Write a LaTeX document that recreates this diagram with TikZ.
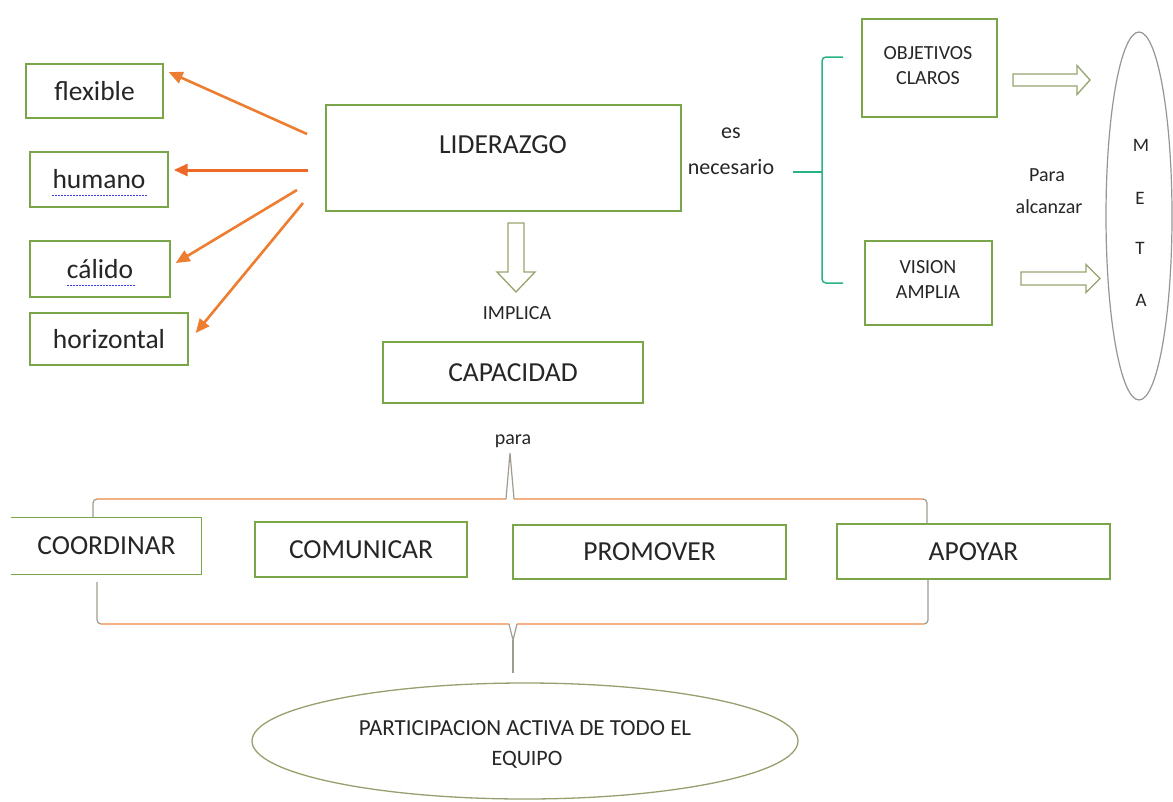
\documentclass[tikz,border=0pt]{standalone}
\usepackage{fontspec}
\setmainfont{Carlito}
\usetikzlibrary{arrows.meta,shapes.geometric,calc}
\definecolor{boxgreen}{RGB}{122,165,72}
\definecolor{arrorange}{RGB}{237,125,49}
\definecolor{arrred}{RGB}{238,105,40}
\definecolor{lightorange}{RGB}{244,177,131}
\definecolor{bracegreen}{RGB}{40,180,130}
\definecolor{txt}{RGB}{38,38,38}
\definecolor{metagray}{RGB}{150,150,150}
\definecolor{ellcol}{RGB}{150,160,110}
\definecolor{tipgray}{RGB}{160,155,145}
\definecolor{hollow}{RGB}{150,165,110}
\definecolor{spell}{RGB}{60,60,230}
\newcommand{\fbig}{\fontsize{27.5}{33}\selectfont}
\newcommand{\fmid}{\fontsize{22}{26}\selectfont}
\newcommand{\fsmall}{\fontsize{20}{24}\selectfont}
\newcommand{\fmeta}{\fontsize{19}{23}\selectfont}
\tikzset{
  gbox/.style={draw=boxgreen, line width=1.4pt, fill=white, inner sep=0pt, text=txt, font=\fbig},
  lbl/.style={inner sep=0pt, text=txt},
  oarrow/.style={draw=arrorange, line width=2.6pt, -{Triangle[length=14pt,width=12pt]}},
  hollowarrow/.style={draw=hollow, line width=1.3pt, fill=white, line join=miter},
  brk/.style={draw=lightorange, line width=2.6pt},
  brkv/.style={draw=tipgray, line width=1.2pt},
  spellline/.style={draw=spell, line width=1pt, dash pattern=on 1.5pt off 1.5pt}
}
\begin{document}
\begin{tikzpicture}[x=1pt,y=-1pt]
\useasboundingbox[fill=white] (0,0) rectangle (1173,801);

% left adjective boxes
\node[gbox, minimum width=137pt, minimum height=54pt] (flex) at (94.5,91) {flexible};
\node[gbox, minimum width=138pt, minimum height=55pt] (hum) at (99,179.5) {humano};
\node[gbox, minimum width=140pt, minimum height=56pt] (cal) at (100,269) {cálido};
\node[gbox, minimum width=158pt, minimum height=52pt] (hor) at (109,339) {horizontal};
\draw[spellline] (52,195) -- (147,195);
\draw[spellline] (67,285) -- (136,285);

% LIDERAZGO
\node[gbox, minimum width=355pt, minimum height=106pt] (lid) at (503.5,158) {};
\node[lbl, font=\fbig] (lidt) at (503,145) {LIDERAZGO};

% orange arrows
\coordinate (s1) at (307,134);
\coordinate (s2) at (308,170);
\coordinate (s3) at (297,190);
\coordinate (s4) at (303,203);
\draw[oarrow] (s1) -- ($(flex.east)+(5,-19)$);
\draw[oarrow, draw=arrred, line width=3pt] (s2) -- ($(hum.east)+(5,-9.5)$);
\draw[oarrow] (s3) -- ($(cal.east)+(5,-6)$);
\draw[oarrow] (s4) -- ($(hor.east)+(7,-6)$);

% hollow down arrow
\coordinate (da) at (516,223);
\draw[hollowarrow] (da) ++(-8,0) -- ++(16,0) -- ++(0,49) -- ++(11,0) -- ++(-19,20) -- ++(-19,-20) -- ++(11,0) -- cycle;
\node[lbl, font=\fsmall] (impl) at (517,313) {IMPLICA};

% CAPACIDAD
\node[gbox, minimum width=260pt, minimum height=61pt] (cap) at (513,372.5) {CAPACIDAD};
\node[lbl, font=\fsmall] (para) at (513,441) {para};

% es necesario
\node[lbl, font=\fmid] (es) at (731,133) {es};
\node[lbl, font=\fmid] (nec) at (731,167) {necesario};

% green brace
\draw[draw=bracegreen, line width=1.5pt, line join=round]
  (843,57) -- (826,57) to[out=180,in=90] (822,61) -- (822,279) to[out=-90,in=180] (826,283) -- (843,283);
\draw[draw=bracegreen, line width=1.5pt] (793,172) -- (822,172);

% right boxes
\node[gbox, minimum width=135pt, minimum height=98pt] (obj) at (929.5,68) {};
\node[lbl, font=\fsmall] (objt1) at (928,53) {OBJETIVOS};
\node[lbl, font=\fsmall] (objt2) at (928,78) {CLAROS};
\node[gbox, minimum width=127pt, minimum height=84pt] (vis) at (928.5,283) {};
\node[lbl, font=\fsmall] (vist1) at (928,267) {VISION};
\node[lbl, font=\fsmall] (vist2) at (928,292) {AMPLIA};

% hollow right arrows
\coordinate (ra1) at (1013,80);
\draw[hollowarrow] (ra1) ++(0,-6) -- ++(64,0) -- ++(0,-8.5) -- ++(13,14.5) -- ++(-13,14.5) -- ++(0,-8.5) -- ++(-64,0) -- cycle;
\coordinate (ra2) at (1021,278.5);
\draw[hollowarrow] (ra2) ++(0,-6.5) -- ++(65,0) -- ++(0,-7.5) -- ++(14,14) -- ++(-14,14) -- ++(0,-7.5) -- ++(-65,0) -- cycle;

\node[lbl, font=\fsmall] (pa1) at (1047,175) {Para};
\node[lbl, font=\fsmall] (pa2) at (1049,207) {alcanzar};

% META ellipse
\node[draw=metagray, line width=1.2pt, ellipse, minimum width=66pt, minimum height=368pt, inner sep=0pt] (meta) at (1139,216) {};
\node[lbl, font=\fmeta] (mm) at (1141,145) {M};
\node[lbl, font=\fmeta] (me) at (1140,198) {E};
\node[lbl, font=\fmeta] (mt) at (1140,248) {T};
\node[lbl, font=\fmeta] (ma) at (1141,300) {A};

% bottom boxes
\node[gbox, draw=none, minimum width=189pt, minimum height=56pt] (coo) at (106.5,546) {COORDINAR};
\draw[draw=boxgreen, line width=1.4pt] (coo.north west) -- (coo.north east) -- (coo.south east) -- (coo.south west);
\node[gbox, minimum width=212pt, minimum height=55pt] (com) at (361,549.5) {COMUNICAR};
\node[gbox, minimum width=273pt, minimum height=54pt] (pro) at (649.5,552) {PROMOVER};
\node[gbox, minimum width=273pt, minimum height=55pt] (apo) at (973.5,551.5) {APOYAR};

% top bracket
\draw[brk] (97,499) -- (506,499);
\draw[brk] (514,499) -- (923,499);
\draw[brkv] (93,517) -- (93,503) to[out=90,in=180] (97,499);
\draw[brkv] (927,523) -- (927,503) to[out=90,in=0] (923,499);
\draw[brkv] (506,499) -- (510,453) -- (514,499);

% bottom bracket
\draw[brk] (101,624) -- (509,624);
\draw[brk] (517,624) -- (924,624);
\draw[brkv] (97,582) -- (97,620) to[out=-90,in=180] (101,624);
\draw[brkv] (928,580) -- (928,620) to[out=-90,in=0] (924,624);
\draw[brkv] (509,624) -- (513,640) -- (517,624);
\draw[brkv] (513,640) -- (513,673);

% bottom ellipse
\node[draw=ellcol, line width=1.3pt, ellipse, minimum width=546pt, minimum height=116pt, inner sep=0pt] (part) at (525,741) {};
\node[lbl, font=\fontsize{23}{27}\selectfont] (partt1) at (525,728) {PARTICIPACION ACTIVA DE TODO EL};
\node[lbl, font=\fmid] (partt2) at (527,760) {EQUIPO};
\end{tikzpicture}
\end{document}
